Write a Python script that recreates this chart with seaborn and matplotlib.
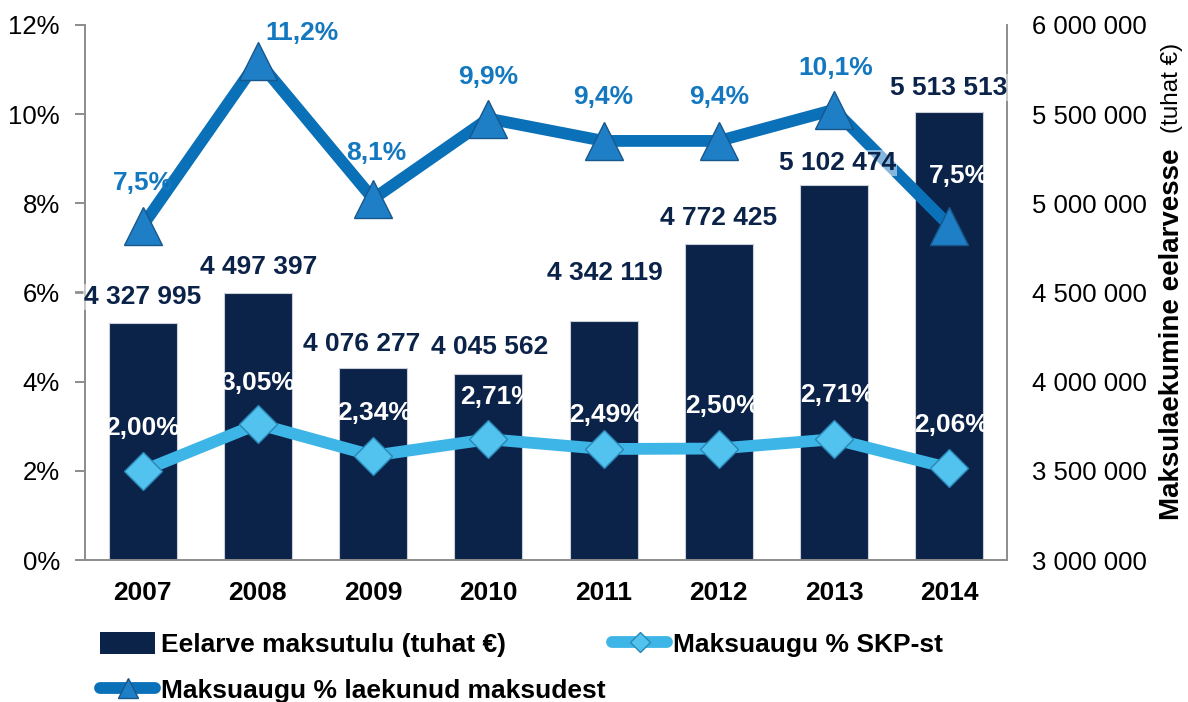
import numpy as np
import matplotlib.pyplot as plt
import seaborn as sns
from matplotlib.lines import Line2D
from matplotlib.patches import Patch
from matplotlib.ticker import FuncFormatter, MultipleLocator, FixedLocator

# data
years = ['2007', '2008', '2009', '2010', '2011', '2012', '2013', '2014']
tax_revenue = [4327995, 4497397, 4076277, 4045562, 4342119, 4772425, 5102474, 5513513]
gap_pct_gdp = [2.00, 3.05, 2.34, 2.71, 2.49, 2.50, 2.71, 2.06]
gap_pct_collected = [7.5, 11.2, 8.1, 9.9, 9.4, 9.4, 10.1, 7.5]

# label offsets in pixels (dx, dy) from the mark
rev_offsets = [(0, 26), (1, 26), (-11, 24), (1, 27), (1, 48), (0, 26), (3, 22), (-1, 24)]
col_offsets = [(0, 43), (44, 28), (3, 46), (0, 42), (0, 44), (0, 44), (2, 42), (10, 50)]
gdp_offsets = [(0, 43), (0, 41), (1, 43), (9, 42), (3, 34), (4, 43), (3, 44), (2, 43)]

NAVY = '#0B2249'
BLUE = '#0A70B8'
LIGHT = '#3DB5E6'
GREY = '#8C8C8C'

sns.set_style('white')
plt.rcParams['font.family'] = ['Liberation Sans', 'DejaVu Sans']
plt.rcParams['text.color'] = 'black'
plt.rcParams['xtick.labelcolor'] = 'black'
plt.rcParams['ytick.labelcolor'] = 'black'

fig = plt.figure(figsize=(11.88, 7.02), dpi=100)
ax = fig.add_axes([85 / 1188, 1 - 560 / 702, 922 / 1188, 535 / 702])

x = np.arange(len(years))

# bars on the right-hand scale
sns.barplot(x=x, y=tax_revenue, color=NAVY, width=0.59, ax=ax,
            edgecolor='#c9ced8', linewidth=0.8, saturation=1)
ax.set_ylim(3000000, 6000000)
ax.set_xlim(-0.5, 7.5)
ax.yaxis.tick_right()
ax.yaxis.set_major_locator(MultipleLocator(500000))
ax.yaxis.set_major_formatter(FuncFormatter(lambda v, p: f"{int(v):,}".replace(',', ' ')))

# lines on the left-hand scale
ax2 = ax.twinx()
sns.lineplot(x=x, y=gap_pct_collected, color=BLUE, lw=8.5, marker='^', markersize=28,
             markerfacecolor='#1E7FC6', markeredgecolor='#17578C', markeredgewidth=1,
             solid_joinstyle='miter', ax=ax2)
sns.lineplot(x=x, y=gap_pct_gdp, color=LIGHT, lw=8.5, marker='D', markersize=19,
             markerfacecolor='#52C3EE', markeredgecolor='#2A87B5', markeredgewidth=1,
             solid_joinstyle='round', ax=ax2)
ax2.set_ylim(0, 12)
ax2.set_xlim(-0.5, 7.5)
ax2.yaxis.tick_left()
ax2.yaxis.set_major_locator(MultipleLocator(2))
ax2.yaxis.set_major_formatter(FuncFormatter(lambda v, p: f"{int(v)}%"))

# x ticks: labels on categories, tick marks between them
ax.set_xticks(x)
ax.set_xticklabels(years, fontsize=19, fontweight='bold')
ax.xaxis.set_minor_locator(FixedLocator(np.arange(-0.5, 8, 1)))
ax.tick_params(axis='x', which='major', length=0, pad=15)
ax.tick_params(axis='x', which='minor', length=7, color=GREY, width=1.2)
ax.tick_params(axis='y', labelsize=18.5, length=7, color=GREY, width=1.2, pad=11, labelright=True, labelleft=False)
ax2.tick_params(axis='y', labelsize=18.5, length=7, color=GREY, width=1.2, pad=11, labelleft=True, labelright=False)
ax2.tick_params(axis='x', length=0, labelbottom=False)
ax.set_xlabel('')

for a in (ax, ax2):
    a.spines['top'].set_visible(False)
    for s in ('left', 'right', 'bottom'):
        a.spines[s].set_color(GREY)
        a.spines[s].set_linewidth(1.2)

# data labels
for i, v in enumerate(tax_revenue):
    ax2.annotate(f"{v:,}".replace(',', ' '), xy=(i, v), xycoords=ax.transData,
                 xytext=rev_offsets[i], textcoords='offset pixels', ha='center', va='center',
                 fontsize=19, fontweight='bold', color=NAVY,
                 bbox=dict(boxstyle='square,pad=0.05', fc='white', ec='none', alpha=0.5))
for i, v in enumerate(gap_pct_collected):
    ax2.annotate(f"{v:.1f}%".replace('.', ','), xy=(i, v), xytext=col_offsets[i],
                 textcoords='offset pixels', ha='center', va='center', fontsize=19,
                 fontweight='bold', color='white' if i == 7 else '#1478C0')
for i, v in enumerate(gap_pct_gdp):
    ax2.annotate(f"{v:.2f}%".replace('.', ','), xy=(i, v), xytext=gdp_offsets[i],
                 textcoords='offset pixels', ha='center', va='center', fontsize=19,
                 fontweight='bold', color='white')

# right axis title, bold part plus plain unit
fig.text(1172 / 1188, 1 - 520 / 702, 'Maksulaekumine eelarvesse', rotation=90,
         ha='center', va='bottom', fontsize=20, fontweight='bold')
fig.text(1172 / 1188, 1 - 133 / 702, '(tuhat €)', rotation=90,
         ha='center', va='bottom', fontsize=17.5)

handles = [
    Patch(facecolor=NAVY, edgecolor='none'),
    Line2D([0], [0], color=BLUE, lw=8.5, marker='^', markersize=14,
           markerfacecolor='#1E7FC6', markeredgecolor='#17578C', solid_capstyle='round'),
    Line2D([0], [0], color=LIGHT, lw=8.5, marker='D', markersize=10,
           markerfacecolor='#52C3EE', markeredgecolor='#2A87B5', solid_capstyle='round'),
]
labels = ['Eelarve maksutulu (tuhat €)', 'Maksuaugu % laekunud maksudest', 'Maksuaugu % SKP-st']
fig.legend(handles, labels, loc='upper left', bbox_to_anchor=(100 / 1188, 1 - 632 / 702),
           ncol=2, frameon=False, borderaxespad=0, borderpad=0, handlelength=2.1,
           handleheight=0.9, handletextpad=0.2, columnspacing=0.25, labelspacing=0.78,
           prop={'size': 19, 'weight': 'bold'})

fig.savefig('out.png', dpi=100)
